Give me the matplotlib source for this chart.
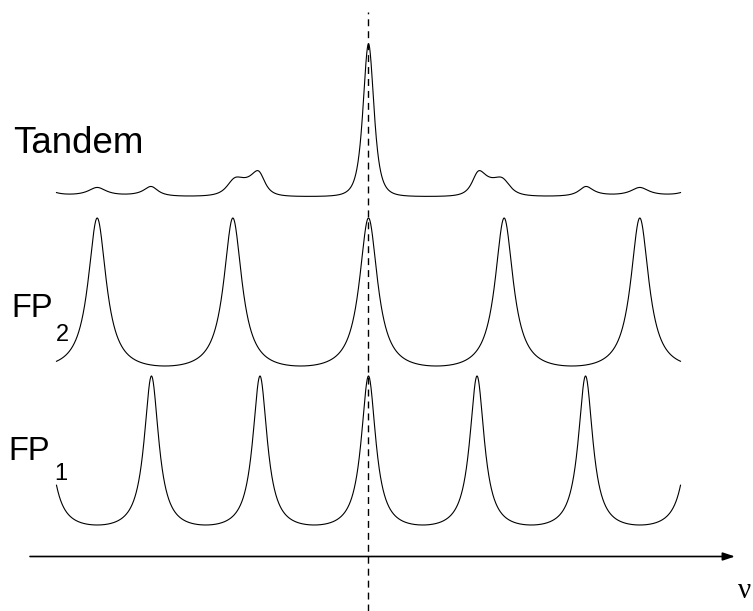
import matplotlib
matplotlib.use("Agg")
import matplotlib.pyplot as plt
import numpy as np

# frequency axis (arbitrary units, central common peak at 0)
nu_range = (-11.5, 11.5)
fsr_fp1 = 4.0          # free spectral range of FP1
fsr_fp2 = 5.0          # free spectral range of FP2
finesse_coef = 15.0    # coefficient F of the Airy function

labels = ["FP", "FP", "Tandem"]
subscripts = ["1", "2", ""]


def airy(nu, fsr, F):
    return 1.0 / (1.0 + F * np.sin(np.pi * nu / fsr) ** 2)


def make_figure():
    W, H = 753, 611
    fig = plt.figure(figsize=(W / 100, H / 100), dpi=100)
    ax = fig.add_axes([0, 0, 1, 1])
    ax.axis("off")

    # pixel mapping: nu=-11.5 -> 57 px, nu=11.5 -> 681 px
    px_per_nu = (681 - 57) / (nu_range[1] - nu_range[0])
    x0 = 368.5
    ax.set_xlim(-x0 / px_per_nu, (W - x0) / px_per_nu)
    ax.set_ylim(0, H)

    nu = np.linspace(nu_range[0], nu_range[1], 3000)
    t1 = airy(nu, fsr_fp1, finesse_coef)
    t2 = airy(nu, fsr_fp2, finesse_coef)
    tandem = t1 * t2

    tmin = 1.0 / (1.0 + finesse_coef)
    # FP1 : min at 525 px, peak at 376 px (from top)
    ax.plot(nu, (H - 525) + 149 * (t1 - tmin) / (1 - tmin), color="black", lw=0.8)
    # FP2 : min at 366 px, peak at 218 px
    ax.plot(nu, (H - 366) + 148 * (t2 - tmin) / (1 - tmin), color="black", lw=0.8)
    # Tandem : zero at 197 px, peak at 44 px
    ax.plot(nu, (H - 197) + 153 * tandem, color="black", lw=0.8)

    # dashed line through common peak
    ax.plot([0, 0], [0, H - 12], color="black", lw=1.0,
            linestyle=(0, (5.0, 3.6)))

    # frequency axis arrow
    ax.annotate("", xy=(735, H - 556.5), xytext=(30, H - 556.5),
                xycoords="figure pixels", textcoords="figure pixels",
                arrowprops=dict(arrowstyle="-|>,head_length=0.45,head_width=0.15",
                                mutation_scale=16, lw=1.2, color="black",
                                shrinkA=0, shrinkB=0))
    fig.text(751 / W, 1 - 591 / H, "ν", fontsize=21, family="Liberation Serif",
             ha="right", va="center")

    sans = "Liberation Sans"
    fig.text(13 / W, 1 - 153.5 / H, labels[2], fontsize=26.5, family=sans,
             ha="left", va="baseline")
    fig.text(11 / W, 1 - 317 / H, labels[1], fontsize=23.5, family=sans,
             ha="left", va="baseline")
    fig.text(56 / W, 1 - 341 / H, subscripts[1], fontsize=17, family=sans,
             ha="left", va="baseline")
    fig.text(8 / W, 1 - 459.5 / H, labels[0], fontsize=23.5, family=sans,
             ha="left", va="baseline")
    fig.text(54 / W, 1 - 480 / H, subscripts[0], fontsize=17, family=sans,
             ha="left", va="baseline")

    fig.savefig("out.png", dpi=100, facecolor="white")


if __name__ == "__main__":
    make_figure()
